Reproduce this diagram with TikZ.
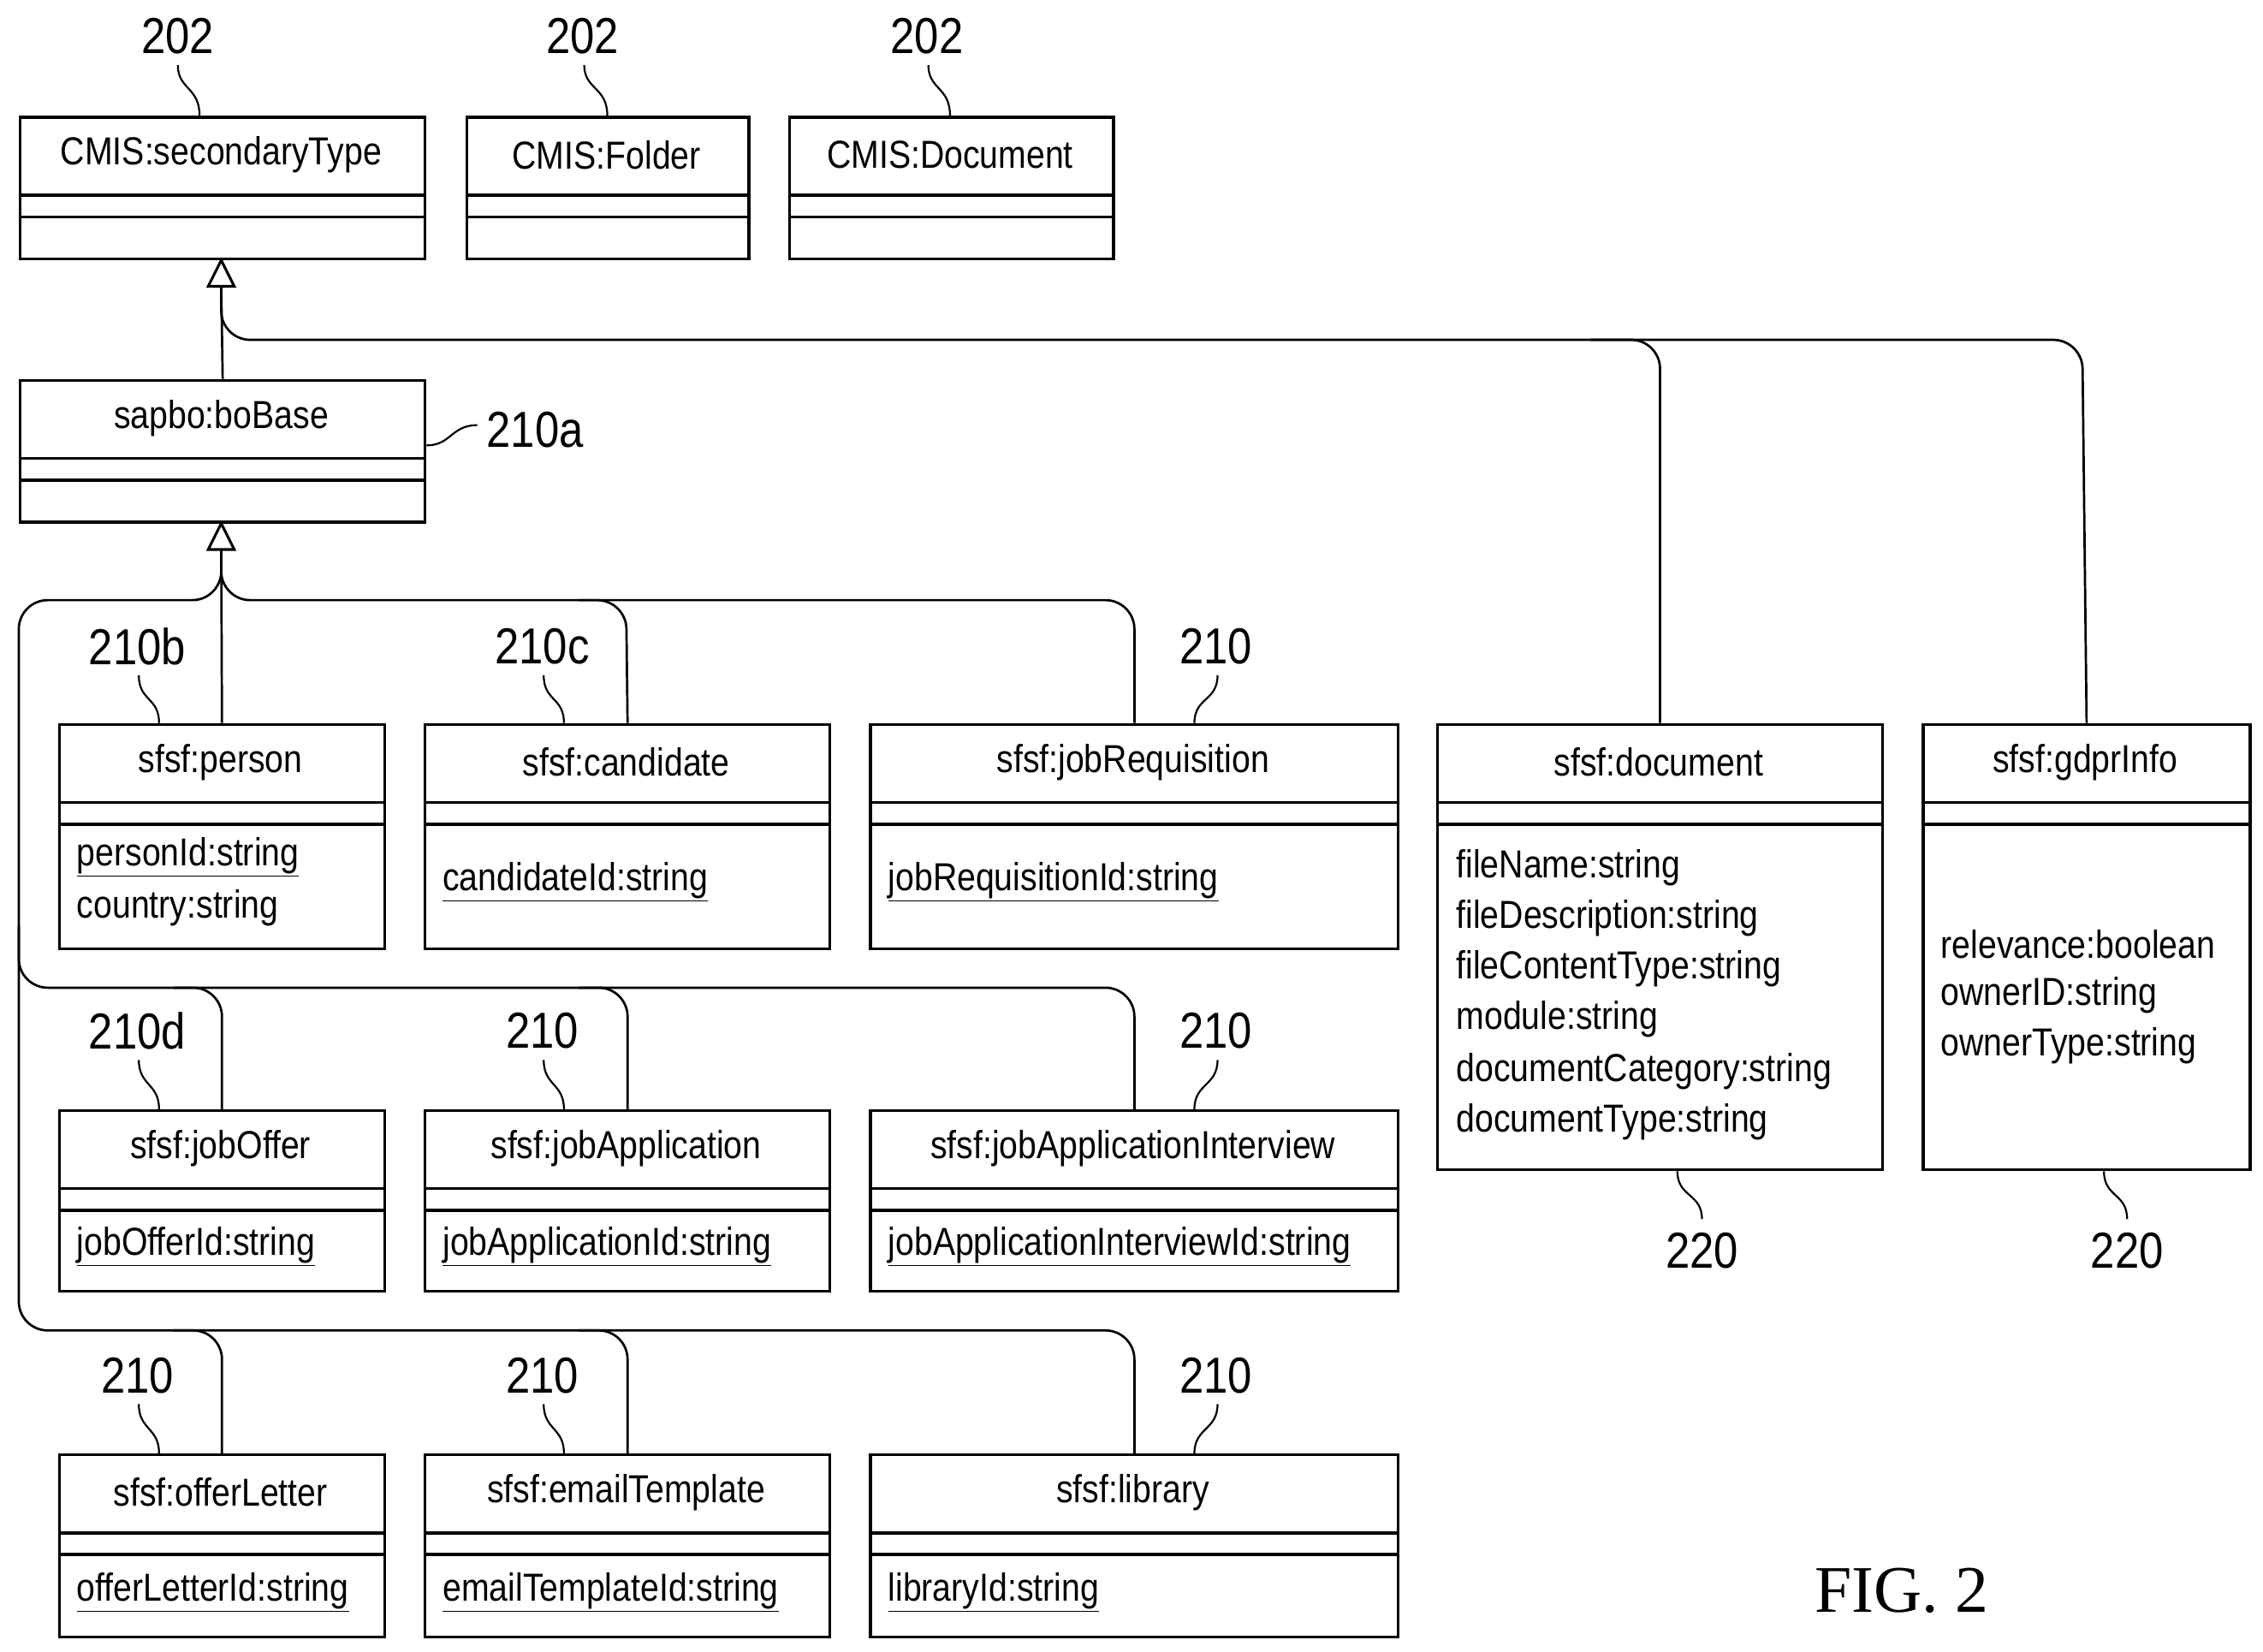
\documentclass[tikz,border=0pt]{standalone}
\usepackage{fontspec}
\setmainfont[FakeStretch=0.86]{Liberation Sans}
\newfontfamily\figfont{Liberation Serif}
\begin{document}
\begin{tikzpicture}[x=1pt,y=-1pt,
  box/.style={draw,line width=2pt,inner sep=0pt},
  div/.style={line width=2pt},
  conn/.style={line width=1.6pt,rounded corners=20pt},
  lead/.style={line width=1.3pt},
  ttl/.style={font=\fontsize{27}{30}\selectfont},
  att/.style={font=\fontsize{27}{30}\selectfont,anchor=west,inner sep=0pt},
  ref/.style={font=\fontsize{35}{40}\selectfont}]
\useasboundingbox (0,0) rectangle (1565,1142);
\newcommand\ubox[6]{%
  \node[box,minimum width={(#4-#2)*1pt},minimum height={(#5-#3)*1pt},anchor=north west] (#1) at (#2,#3) {};
  \draw[div] (#2,{#3+55}) -- (#4,{#3+55}) (#2,{#3+70}) -- (#4,{#3+70});
  \draw[line width=2pt] ({#2},{#5+1}) -- ({#4+1},{#5+1}) -- ({#4+1},#3);
  \node[ttl] (#1t) at ({(#2+#4)/2},{#3+27}) {#6};}
% top boxes
\ubox{sec}{13}{80}{293}{178}{CMIS:secondaryType}
\ubox{fold}{322}{80}{517}{178}{CMIS:Folder}
\ubox{docu}{545}{80}{769}{178}{CMIS:Document}
\ubox{bob}{13}{262}{293}{360}{sapbo:boBase}
% row 1
\ubox{person}{40}{500}{265}{655}{sfsf:person}
\ubox{cand}{293}{500}{573}{655}{sfsf:candidate}
\ubox{jreq}{601}{500}{966}{655}{sfsf:jobRequisition}
\ubox{doc}{993}{500}{1301}{808}{sfsf:document}
\ubox{gdpr}{1329}{500}{1555}{808}{sfsf:gdprInfo}
% row 2
\ubox{joff}{40}{767}{265}{892}{sfsf:jobOffer}
\ubox{japp}{293}{767}{573}{892}{sfsf:jobApplication}
\ubox{jint}{601}{767}{966}{892}{sfsf:jobApplicationInterview}
% row 3
\ubox{olet}{40}{1005}{265}{1131}{sfsf:offerLetter}
\ubox{etpl}{293}{1005}{573}{1131}{sfsf:emailTemplate}
\ubox{lib}{601}{1005}{966}{1131}{sfsf:library}
% attributes
\node[att] (a1) at (53,593) {\underline{personId:string}};
\node[att] (a2) at (53,628) {country:string};
\node[att] (a3) at (306,610) {\underline{candidateId:string}};
\node[att] (a4) at (614,610) {\underline{jobRequisitionId:string}};
\node[att] (a5) at (53,862) {\underline{jobOfferId:string}};
\node[att] (a6) at (306,862) {\underline{jobApplicationId:string}};
\node[att] (a7) at (614,862) {\underline{jobApplicationInterviewId:string}};
\node[att] (a8) at (53,1101) {\underline{offerLetterId:string}};
\node[att] (a9) at (306,1101) {\underline{emailTemplateId:string}};
\node[att] (a10) at (614,1101) {\underline{libraryId:string}};
\node[att] (d1) at (1007,600) {fileName:string};
\node[att] (d2) at (1007,635) {fileDescription:string};
\node[att] (d3) at (1007,670) {fileContentType:string};
\node[att] (d4) at (1007,705) {module:string};
\node[att] (d5) at (1007,741) {documentCategory:string};
\node[att] (d6) at (1007,776) {documentType:string};
\node[att] (g1) at (1342,653) {relevance:boolean};
\node[att] (g2) at (1342,688) {ownerID:string};
\node[att] (g3) at (1342,723) {ownerType:string};
% inheritance triangles
\draw[line width=1.8pt,fill=white] (153,180) -- (144,198) -- (162,198) -- cycle;
\coordinate (t1) at (153,198);
\draw[line width=1.8pt,fill=white] (153,362) -- (144,380) -- (162,380) -- cycle;
\coordinate (t2) at (153,380);
% connectors top
\draw[conn] (bob.north) -- (t1);
\draw[conn] (t1) |- (1440,235) -- (gdpr.north);
\draw[conn] (1100,235) -| (doc.north);
% connectors from boBase
\draw[conn] (t2) -- (person.north);
\draw[conn] (t2) |- (13,415) -- (13,920) -| (olet.north);
\draw[conn] (t2) |- (433,415) -- (cand.north);
\draw[conn] (400,415) -| (jreq.north);
\draw[conn] (13,640) -- (13,683) -| (joff.north);
\draw[conn] (120,683) -| (japp.north);
\draw[conn] (400,683) -| (jint.north);
\draw[conn] (120,920) -| (etpl.north);
\draw[conn] (400,920) -| (lib.north);
% reference labels
\node[ref] (r1) at (123,25) {202};
\draw[lead] (123,45) .. controls (123,62) and (138,60) .. (138,80);
\node[ref] (r2) at (403,25) {202};
\draw[lead] (404,45) .. controls (404,62) and (420,60) .. (420,80);
\node[ref] (r3) at (641,25) {202};
\draw[lead] (642,45) .. controls (642,62) and (657,60) .. (657,80);
\node[ref] (r4) at (370,297) {210a};
\draw[lead] (295,308) .. controls (312,308) and (312,294) .. (330,294);
\node[ref] (r5) at (95,447) {210b};
\draw[lead] (96,467) .. controls (96,485) and (110,482) .. (110,500);
\node[ref] (r6) at (375,447) {210c};
\draw[lead] (376,467) .. controls (376,485) and (390,482) .. (390,500);
\node[ref] (r7) at (841,447) {210};
\draw[lead] (842,467) .. controls (842,485) and (826,482) .. (826,500);
\node[ref] (r8) at (95,713) {210d};
\draw[lead] (96,733) .. controls (96,751) and (110,749) .. (110,767);
\node[ref] (r9) at (375,713) {210};
\draw[lead] (376,733) .. controls (376,751) and (390,749) .. (390,767);
\node[ref] (r10) at (841,713) {210};
\draw[lead] (842,733) .. controls (842,751) and (826,749) .. (826,767);
\node[ref] (r11) at (95,951) {210};
\draw[lead] (96,971) .. controls (96,989) and (110,987) .. (110,1005);
\node[ref] (r12) at (375,951) {210};
\draw[lead] (376,971) .. controls (376,989) and (390,987) .. (390,1005);
\node[ref] (r13) at (841,951) {210};
\draw[lead] (842,971) .. controls (842,989) and (826,987) .. (826,1005);
\node[ref] (r14) at (1177,865) {220};
\draw[lead] (1160,810) .. controls (1160,828) and (1177,825) .. (1177,843);
\node[ref] (r15) at (1471,865) {220};
\draw[lead] (1455,810) .. controls (1455,828) and (1471,825) .. (1471,843);
\node[font=\figfont\fontsize{46}{50}\selectfont] (fig) at (1315,1100) {FIG. 2};
\end{tikzpicture}
\end{document}
